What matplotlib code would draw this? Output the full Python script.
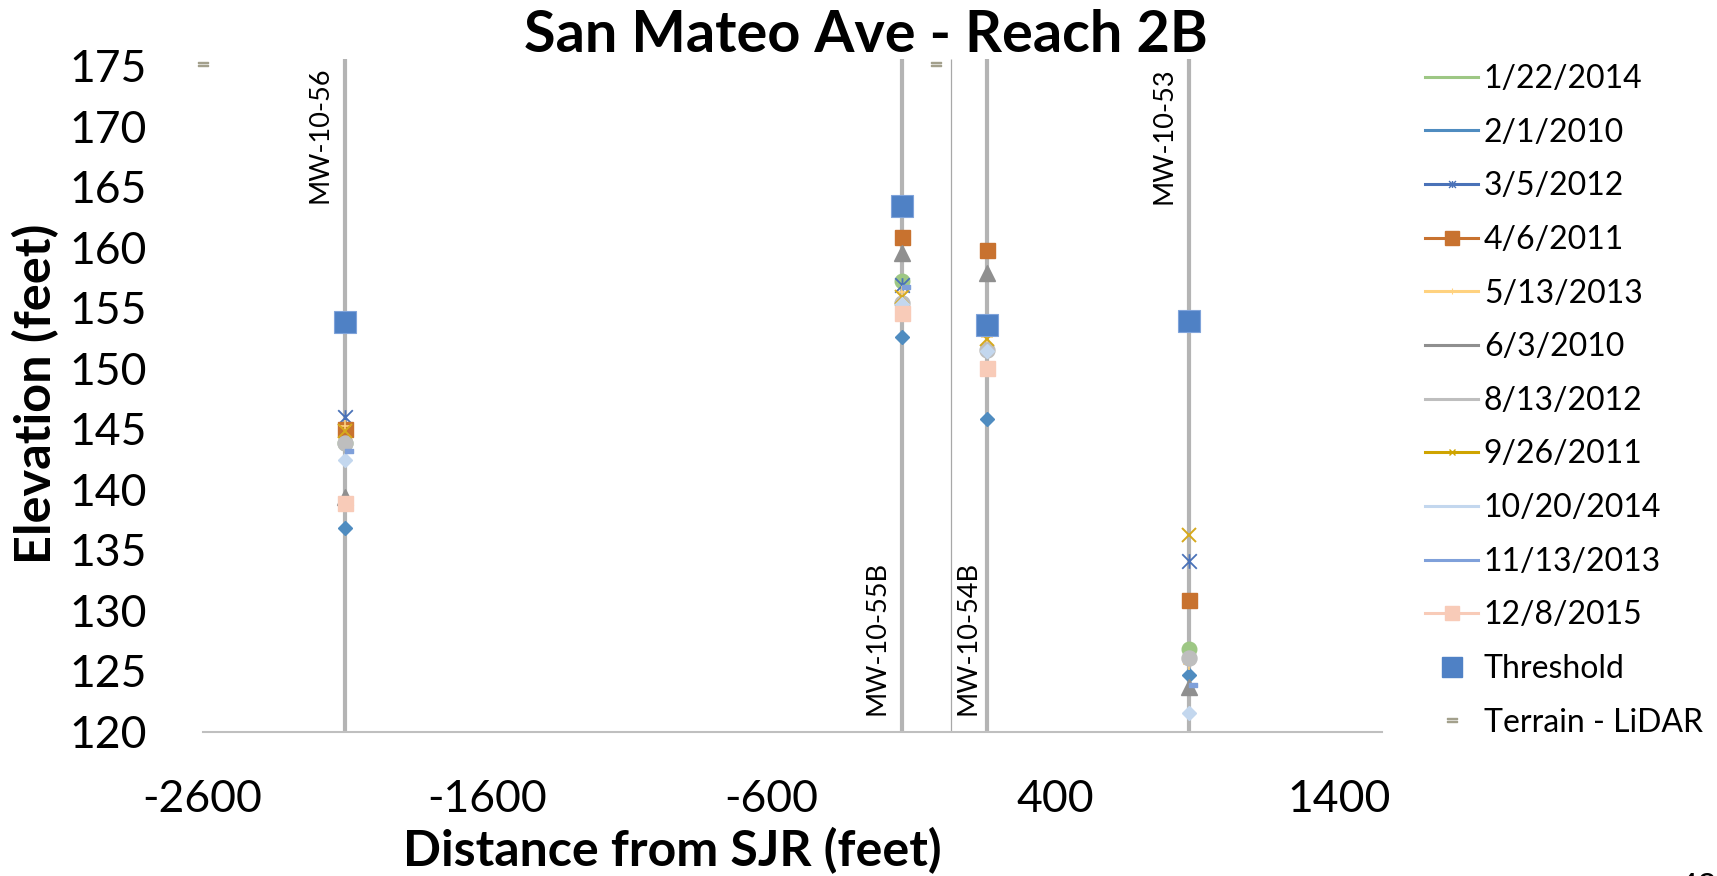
import numpy as np
import matplotlib
matplotlib.use("Agg")
import matplotlib.pyplot as plt
from matplotlib.path import Path
from matplotlib.lines import Line2D

# ---------------- data ----------------
well_names = ["MW-10-56", "MW-10-55B", "MW-10-54B", "MW-10-53"]
well_x = [-2100, -140, 162, 870]
river_x = [34]

series_labels = ["1/22/2014", "2/1/2010", "3/5/2012", "4/6/2011", "5/13/2013",
                 "6/3/2010", "8/13/2012", "9/26/2011", "10/20/2014",
                 "11/13/2013", "12/8/2015"]
s_2014_01_22 = [143.8, 157.2, 153.3, 126.8]
s_2010_02_01 = [136.8, 152.6, 145.8, 124.7]
s_2012_03_05 = [146.0, 156.9, 153.3, 134.1]
s_2011_04_06 = [145.0, 160.8, 159.8, 130.9]
s_2013_05_13 = [145.2, 156.3, 152.6, 125.6]
s_2010_06_03 = [139.4, 159.5, 157.9, 123.7]
s_2012_08_13 = [143.8, 155.4, 151.5, 126.1]
s_2011_09_26 = [144.8, 155.9, 152.4, 136.2]
s_2014_10_20 = [142.4, 155.3, 151.4, 121.5]
s_2013_11_13 = [143.2, 156.7, 153.4, 123.8]
s_2015_12_08 = [138.9, 154.6, 150.0, np.nan]
threshold = [153.8, 163.4, 153.6, 153.9]
terrain_x = [-2600, -20]
terrain_y = [175.1, 175.1]

x_ticks = [-2600, -1600, -600, 400, 1400]
y_ticks = [120, 125, 130, 135, 140, 145, 150, 155, 160, 165, 170, 175]

# ---------------- style ----------------
FONT = "Lato"
plt.rcParams["font.family"] = [FONT, "DejaVu Sans"]

star = Path([(-1, -1), (1, 1), (-1, 1), (1, -1), (0, -1), (0, 1)],
            [Path.MOVETO, Path.LINETO] * 3)
dash = Path([(0, -0.2), (1, -0.2), (1, 0.2), (0, 0.2), (0, -0.2)],
            [Path.MOVETO, Path.LINETO, Path.LINETO, Path.LINETO, Path.CLOSEPOLY])

styles = [
    dict(color="#9DC784", marker="o", ms=10.5),
    dict(color="#4F8CC0", marker="D", ms=7.5),
    dict(color="#4A72B8", marker=star, ms=10.5, mfc="none", mew=1.3),
    dict(color="#C8722F", marker="s", ms=10.8),
    dict(color="#FFD27F", marker="+", ms=9, mew=1.2),
    dict(color="#8F8F8F", marker="^", ms=11),
    dict(color="#BEBEBE", marker="o", ms=10.8),
    dict(color="#D6A91C", marker="x", ms=10, mew=1.4),
    dict(color="#C3D7EE", marker="D", ms=7.5),
    dict(color="#7FA0DA", marker=dash, ms=11.5),
    dict(color="#F8CBB8", marker="s", ms=10.8),
]
series_values = [s_2014_01_22, s_2010_02_01, s_2012_03_05, s_2011_04_06,
                 s_2013_05_13, s_2010_06_03, s_2012_08_13, s_2011_09_26,
                 s_2014_10_20, s_2013_11_13, s_2015_12_08]

W, H = 1717, 876
fig = plt.figure(figsize=(W / 100, H / 100), dpi=100)
ax = fig.add_axes([202.6 / W, 1 - 731.5 / H, 1179.3 / W, 666.0 / H])
ax.set_xlim(-2600, 1550)
ax.set_ylim(120, 175)

# well lines
ax.vlines(well_x, 120, 175.5, colors="#B4B4B4", lw=3.0, zorder=1, clip_on=False)
ax.vlines(river_x, 120, 175.5, colors="#A8A8A8", lw=0.9, zorder=1, clip_on=False)

for vals, st in zip(series_values, styles):
    ax.plot(well_x, vals, linestyle="none", zorder=3, **st)
ax.plot(well_x, threshold, linestyle="none", marker="s", ms=16.5,
        color="#4F81C5", mec="#7FA3DA", mew=0.8, zorder=4)
ax.plot(terrain_x, terrain_y, linestyle="none", marker="$=$", ms=7,
        color="#A3A08C", zorder=4, clip_on=False)

# well labels
for name, x in zip(well_names, well_x):
    top = name in ("MW-10-56", "MW-10-53")
    dx = -14 if name == "MW-10-54B" else -17.5
    if top:
        ax.annotate(name, (x, 175), xytext=(dx, -1), textcoords="offset points",
                    rotation=90, ha="center", va="top", fontsize=19.5)
    else:
        ax.annotate(name, (x, 120), xytext=(dx, 12), textcoords="offset points",
                    rotation=90, ha="center", va="bottom", fontsize=19.5)

# axes
for s in ("top", "right", "left"):
    ax.spines[s].set_visible(False)
ax.spines["bottom"].set_color("#BFBFBF")
ax.spines["bottom"].set_linewidth(1.5)
ax.set_xticks(x_ticks)
ax.set_yticks(y_ticks)
ax.set_xticklabels([str(v) for v in x_ticks])
ax.set_yticklabels([str(v) for v in y_ticks])
ax.tick_params(axis="x", length=0, pad=34, labelsize=32)
ax.tick_params(axis="y", length=0, pad=40, labelsize=32)

renderer = fig.canvas.get_renderer()


def fit(t, target, vertical=False):
    bb = t.get_window_extent(renderer)
    cur = bb.height if vertical else bb.width
    t.set_fontsize(t.get_fontsize() * target / cur)


title = fig.text(866 / W, 1 - 52 / H, "San Mateo Ave - Reach 2B", ha="center",
                 va="baseline", fontsize=34, fontweight="bold")
fit(title, 684)
xl = fig.text(672 / W, 1 - 866 / H, "Distance from SJR (feet)", ha="center",
              va="baseline", fontsize=28, fontweight="bold")
fit(xl, 540)
yl = fig.text(36 / W, 1 - 394 / H, "Elevation (feet)", ha="center", va="center",
              rotation=90, fontsize=28, fontweight="bold")
fit(yl, 340, vertical=True)

fig.text(1698 / W, 1 - 897 / H, "43", ha="center", va="baseline", fontsize=24)

# legend
handles = [
    Line2D([], [], color="#9DC784", lw=2.2),
    Line2D([], [], color="#4F8CC0", lw=2.2),
    Line2D([], [], color="#4A72B8", lw=2.2, marker=star, ms=5, mfc="none", mew=1),
    Line2D([], [], color="#C8722F", lw=2.2, marker="s", ms=10),
    Line2D([], [], color="#FFD27F", lw=2.2, marker="|", ms=5, mew=0.8),
    Line2D([], [], color="#8F8F8F", lw=2.2),
    Line2D([], [], color="#BEBEBE", lw=2.2),
    Line2D([], [], color="#CFA400", lw=2.2, marker="x", ms=5, mew=1),
    Line2D([], [], color="#C3D7EE", lw=2.2),
    Line2D([], [], color="#7FA0DA", lw=2.2),
    Line2D([], [], color="#F8CBB8", lw=2.2, marker="s", ms=10),
    Line2D([], [], color="#4F81C5", lw=0, marker="s", ms=14),
    Line2D([], [], color="#A3A08C", lw=0, marker="$=$", ms=7),
]
labels = series_labels + ["Threshold", "Terrain - LiDAR"]
fig.legend(handles, labels, loc="upper left", bbox_to_anchor=(1425 / W, 1 - 64 / H),
           frameon=False, fontsize=23, borderpad=0, borderaxespad=0,
           handlelength=1.66, handletextpad=0.18, labelspacing=0.74)

fig.savefig("out.png", dpi=100)
